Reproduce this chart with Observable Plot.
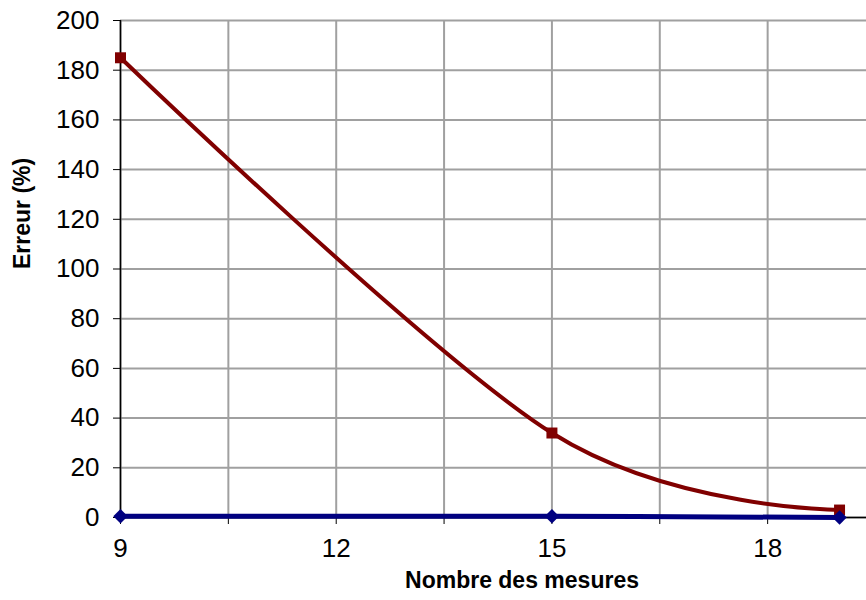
<!DOCTYPE html>
<html>
<head>
<meta charset="utf-8">
<script src="https://cdn.jsdelivr.net/npm/d3@7"></script>
<script src="https://cdn.jsdelivr.net/npm/@observablehq/plot@0.6"></script>
<style>
  html, body { margin: 0; padding: 0; background: white; overflow: hidden; }
</style>
</head>
<body>
<div id="chart"></div>
<script>
// Data
const xValues = [9, 15, 19];
const redValues = [185, 34, 3];
const blueValues = [0.5, 0.5, 0];
const xTickLabels = [9, 12, 15, 18];
const xMinorTicks = [10.5, 13.5, 16.5, 19.5];
const xGrid = [9, 10.5, 12, 13.5, 15, 16.5, 18, 19.5];
const yTicks = [0, 20, 40, 60, 80, 100, 120, 140, 160, 180, 200];
const xTitle = "Nombre des mesures";
const yTitle = "Erreur (%)";

const red = xValues.map((x, i) => ({x, y: redValues[i]}));
const blue = xValues.map((x, i) => ({x, y: blueValues[i]}));

const chart = Plot.plot({
  width: 866,
  height: 600,
  marginLeft: 120,
  marginRight: -9,
  marginTop: 20,
  marginBottom: 83,
  x: {domain: [9, 19.5]},
  y: {domain: [0, 200]},
  style: {
    fontFamily: "'Liberation Sans', Arial, sans-serif",
    fontSize: "26px",
    background: "white",
    color: "black"
  },
  marks: [
    Plot.gridY(yTicks, {stroke: "#a0a0a0", strokeOpacity: 1, strokeWidth: 2}),
    Plot.gridX(xGrid, {stroke: "#a0a0a0", strokeOpacity: 1, strokeWidth: 2}),
    Plot.axisY(yTicks, {tickSize: 7, tickPadding: 14, label: null, tickFormat: d => String(d)}),
    Plot.axisX(xTickLabels, {tickSize: 7, tickPadding: 14, label: null, tickFormat: d => String(d)}),
    Plot.axisX(xMinorTicks, {tickSize: 7, label: null, tickFormat: () => ""}),
    Plot.ruleX([9], {stroke: "black", strokeWidth: 1.5}),
    Plot.ruleY([0], {stroke: "black", strokeWidth: 1.5}),
    Plot.line(red, {x: "x", y: "y", curve: "cardinal", stroke: "#800000", strokeWidth: 4}),
    Plot.dot(red, {x: "x", y: "y", symbol: "square", r: 6.2, fill: "#800000", stroke: null}),
    Plot.line(blue, {x: "x", y: "y", curve: "cardinal", stroke: "#000080", strokeWidth: 5}),
    Plot.dot(blue, {x: "x", y: "y", symbol: "diamond2", r: 6.5, fill: "#000080", stroke: null}),
    Plot.text([xTitle], {text: d => d, frameAnchor: "bottom", dx: 24, dy: 70, fontWeight: "bold", fontSize: 23, fill: "black"}),
    Plot.text([yTitle], {text: d => d, frameAnchor: "left", rotate: -90, dx: -98, fontWeight: "bold", fontSize: 23, fill: "black"})
  ]
});
document.getElementById("chart").append(chart);
</script>
</body>
</html>
